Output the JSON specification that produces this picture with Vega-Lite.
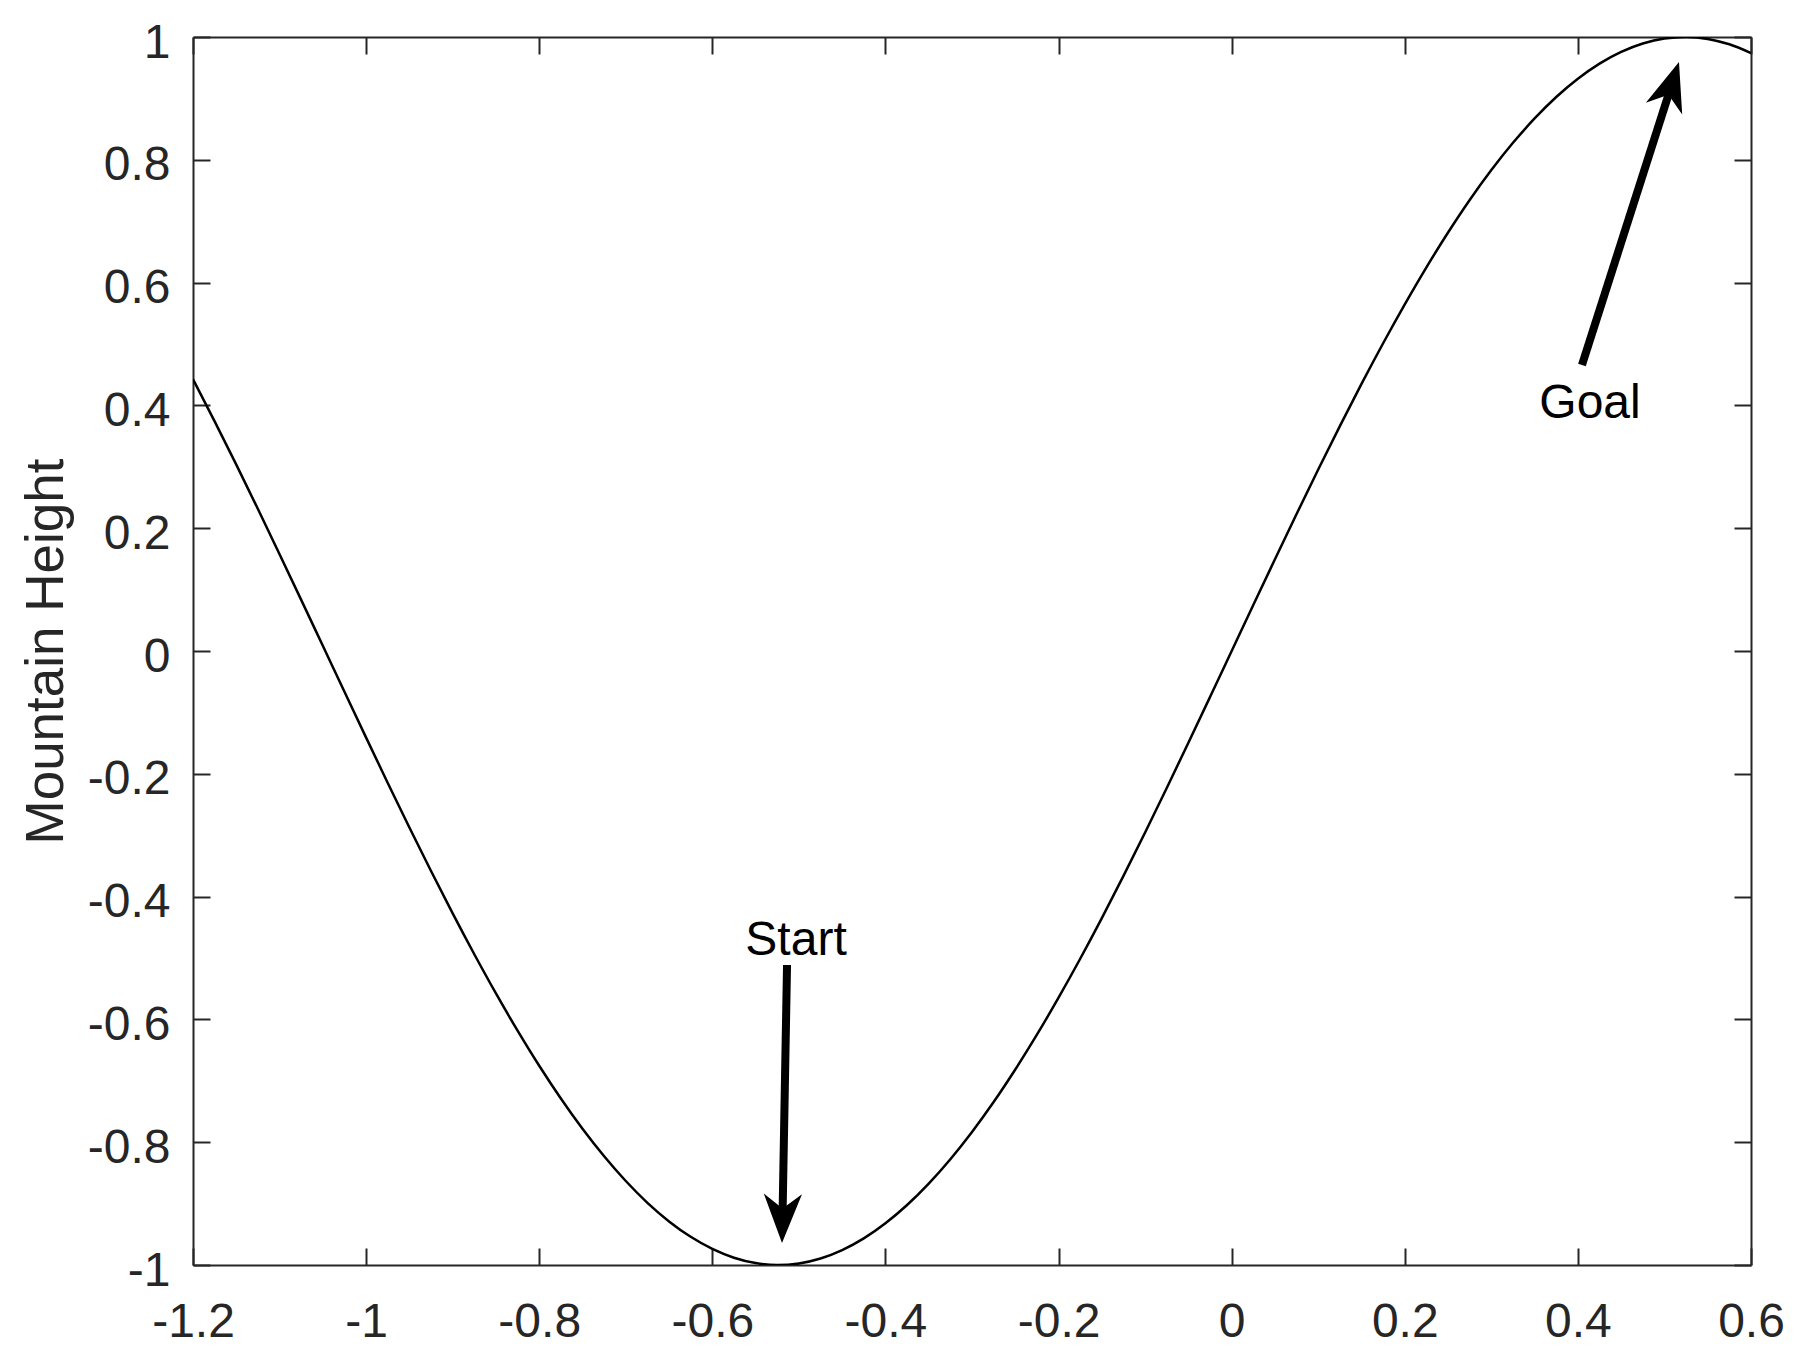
{
  "$schema": "https://vega.github.io/schema/vega-lite/v6.json",
  "width": 1558,
  "height": 1228,
  "autosize": "none",
  "padding": {"left": 193, "top": 37, "right": 45, "bottom": 95},
  "background": "white",
  "config": {
    "view": {"stroke": null},
    "axis": {
      "grid": false,
      "labelFont": "Liberation Sans",
      "labelFontSize": 48,
      "labelColor": "#262626",
      "tickColor": "#262626",
      "tickWidth": 2,
      "tickSize": -17,
      "domainColor": "#262626",
      "domainWidth": 2,
      "labelFlush": false,
      "labelOverlap": false,
      "titleFont": "Liberation Sans",
      "titleFontWeight": "normal",
      "titleColor": "#262626"
    }
  },
  "datasets": {
    "curve": [
      {"x": -1.2, "y": 0.4425}, {"x": -1.175, "y": 0.3741}, {"x": -1.15, "y": 0.3035}, {"x": -1.125, "y": 0.2313},
      {"x": -1.1, "y": 0.1577}, {"x": -1.075, "y": 0.0833}, {"x": -1.05, "y": 0.0084}, {"x": -1.025, "y": -0.0665},
      {"x": -1.0, "y": -0.1411}, {"x": -0.975, "y": -0.2149}, {"x": -0.95, "y": -0.2875}, {"x": -0.925, "y": -0.3584},
      {"x": -0.9, "y": -0.4274}, {"x": -0.875, "y": -0.4939}, {"x": -0.85, "y": -0.5577}, {"x": -0.825, "y": -0.6183},
      {"x": -0.8, "y": -0.6755}, {"x": -0.775, "y": -0.7288}, {"x": -0.75, "y": -0.7781}, {"x": -0.725, "y": -0.8229},
      {"x": -0.7, "y": -0.8632}, {"x": -0.675, "y": -0.8987}, {"x": -0.65, "y": -0.929}, {"x": -0.625, "y": -0.9541},
      {"x": -0.6, "y": -0.9738}, {"x": -0.575, "y": -0.9881}, {"x": -0.55, "y": -0.9969}, {"x": -0.525, "y": -1.0},
      {"x": -0.5, "y": -0.9975}, {"x": -0.475, "y": -0.9894}, {"x": -0.45, "y": -0.9757}, {"x": -0.425, "y": -0.9566},
      {"x": -0.4, "y": -0.932}, {"x": -0.375, "y": -0.9023}, {"x": -0.35, "y": -0.8674}, {"x": -0.325, "y": -0.8277},
      {"x": -0.3, "y": -0.7833}, {"x": -0.275, "y": -0.7346}, {"x": -0.25, "y": -0.6816}, {"x": -0.225, "y": -0.6249},
      {"x": -0.2, "y": -0.5646}, {"x": -0.175, "y": -0.5012}, {"x": -0.15, "y": -0.435}, {"x": -0.125, "y": -0.3663},
      {"x": -0.1, "y": -0.2955}, {"x": -0.075, "y": -0.2231}, {"x": -0.05, "y": -0.1494}, {"x": -0.025, "y": -0.0749},
      {"x": 0.0, "y": 0.0}, {"x": 0.025, "y": 0.0749}, {"x": 0.05, "y": 0.1494}, {"x": 0.075, "y": 0.2231},
      {"x": 0.1, "y": 0.2955}, {"x": 0.125, "y": 0.3663}, {"x": 0.15, "y": 0.435}, {"x": 0.175, "y": 0.5012},
      {"x": 0.2, "y": 0.5646}, {"x": 0.225, "y": 0.6249}, {"x": 0.25, "y": 0.6816}, {"x": 0.275, "y": 0.7346},
      {"x": 0.3, "y": 0.7833}, {"x": 0.325, "y": 0.8277}, {"x": 0.35, "y": 0.8674}, {"x": 0.375, "y": 0.9023},
      {"x": 0.4, "y": 0.932}, {"x": 0.425, "y": 0.9566}, {"x": 0.45, "y": 0.9757}, {"x": 0.475, "y": 0.9894},
      {"x": 0.5, "y": 0.9975}, {"x": 0.525, "y": 1.0}, {"x": 0.55, "y": 0.9969}, {"x": 0.575, "y": 0.9881},
      {"x": 0.6, "y": 0.9738}
    ],
    "arrows": [
      {"label": "Start", "tailX": -0.5137, "tailY": -0.5114, "neckX": -0.5188, "neckY": -0.9121, "tipX": -0.5195, "tipY": -0.964, "textX": -0.5033, "textY": -0.4951},
      {"label": "Goal", "tailX": 0.4047, "tailY": 0.4658, "neckX": 0.5055, "neckY": 0.9096, "tipX": 0.5168, "tipY": 0.9593, "textX": 0.414, "textY": 0.3795}
    ]
  },
  "resolve": {"axis": {"x": "independent", "y": "independent"}},
  "layer": [
    {
      "data": {"name": "curve"},
      "mark": {"type": "line", "color": "black", "strokeWidth": 2.5, "interpolate": "monotone", "clip": true},
      "encoding": {
        "x": {"field": "x", "type": "quantitative",
              "scale": {"domain": [-1.2, 0.6], "nice": false, "zero": false},
              "axis": {"orient": "bottom", "title": null, "values": [-1.2, -1, -0.8, -0.6, -0.4, -0.2, 0, 0.2, 0.4, 0.6],
                       "labelPadding": 50, "labelExpr": "replace(format(datum.value, '~g'), '\u2212', '-')"}},
        "y": {"field": "y", "type": "quantitative",
              "scale": {"domain": [-1, 1], "nice": false, "zero": false},
              "axis": {"orient": "left", "title": "Mountain Height", "values": [-1, -0.8, -0.6, -0.4, -0.2, 0, 0.2, 0.4, 0.6, 0.8, 1],
                       "labelPadding": 40, "labelOffset": 6,
                       "labelExpr": "replace(format(datum.value, '~g'), '\u2212', '-')",
                       "titleFontSize": 53, "titleX": -131, "titleY": 614, "titleAngle": 270,
                       "titleAlign": "center", "titleBaseline": "alphabetic"}}
      }
    },
    {
      "data": {"name": "curve"},
      "mark": {"type": "line", "strokeOpacity": 0},
      "encoding": {
        "x": {"field": "x", "type": "quantitative",
              "axis": {"orient": "top", "title": null, "labels": false, "values": [-1.2, -1, -0.8, -0.6, -0.4, -0.2, 0, 0.2, 0.4, 0.6]}},
        "y": {"field": "y", "type": "quantitative",
              "axis": {"orient": "right", "title": null, "labels": false, "values": [-1, -0.8, -0.6, -0.4, -0.2, 0, 0.2, 0.4, 0.6, 0.8, 1]}}
      }
    },
    {
      "data": {"name": "arrows"},
      "mark": {"type": "rule", "color": "black", "strokeWidth": 8, "strokeCap": "butt"},
      "encoding": {
        "x": {"field": "tailX", "type": "quantitative", "axis": null},
        "y": {"field": "tailY", "type": "quantitative", "axis": null},
        "x2": {"field": "neckX"},
        "y2": {"field": "neckY"}
      }
    },
    {
      "data": {"name": "arrows"},
      "transform": [{"filter": "datum.label === 'Start'"}],
      "mark": {"type": "point", "shape": "M0,0 L0.39,1 L0,0.7 L-0.39,1 Z", "size": 9604, "filled": true, "color": "black", "opacity": 1, "strokeWidth": 0, "angle": 181},
      "encoding": {
        "x": {"field": "tipX", "type": "quantitative", "axis": null},
        "y": {"field": "tipY", "type": "quantitative", "axis": null}
      }
    },
    {
      "data": {"name": "arrows"},
      "transform": [{"filter": "datum.label === 'Goal'"}],
      "mark": {"type": "point", "shape": "M0,0 L0.39,1 L0,0.7 L-0.39,1 Z", "size": 9604, "filled": true, "color": "black", "opacity": 1, "strokeWidth": 0, "angle": 17.8},
      "encoding": {
        "x": {"field": "tipX", "type": "quantitative", "axis": null},
        "y": {"field": "tipY", "type": "quantitative", "axis": null}
      }
    },
    {
      "data": {"name": "arrows"},
      "mark": {"type": "text", "font": "Liberation Sans", "fontSize": 48, "color": "black", "align": "center", "baseline": "alphabetic"},
      "encoding": {
        "x": {"field": "textX", "type": "quantitative", "axis": null},
        "y": {"field": "textY", "type": "quantitative", "axis": null},
        "text": {"field": "label"}
      }
    }
  ]
}
